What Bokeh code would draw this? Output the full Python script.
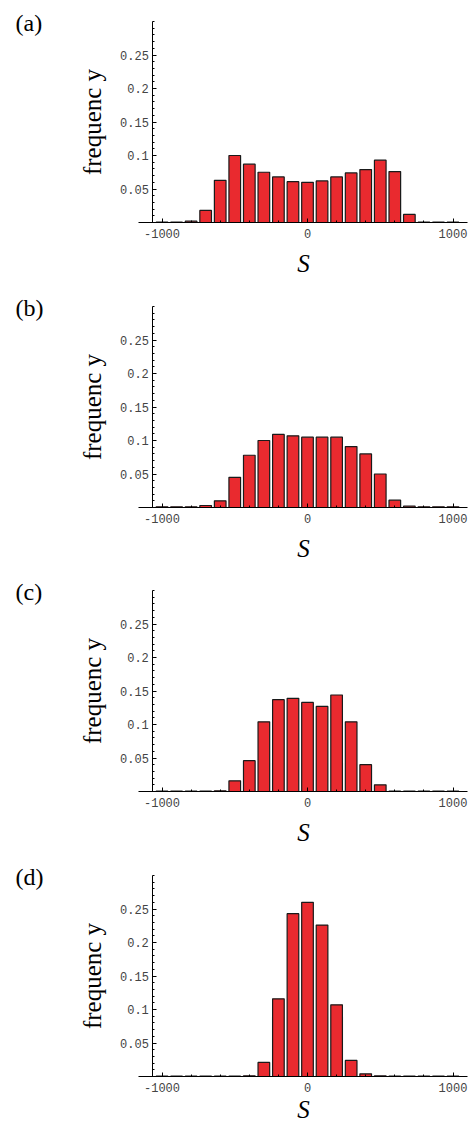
from bokeh.plotting import figure
from bokeh.layouts import column
from bokeh.models import FixedTicker, LinearAxis, Range1d, Label, ColumnDataSource
from bokeh.embed import file_html
from bokeh.resources import INLINE

# ---- data ----
S_centers = [-1000, -900, -800, -700, -600, -500, -400, -300, -200, -100, 0,
             100, 200, 300, 400, 500, 600, 700, 800, 900, 1000]

freq_a = [0.0005, 0.0005, 0.002, 0.018, 0.063, 0.100, 0.087, 0.075, 0.068, 0.061, 0.060,
          0.062, 0.068, 0.074, 0.079, 0.093, 0.076, 0.012, 0.0005, 0.0005, 0.0005]
freq_b = [0.001, 0.001, 0.001, 0.003, 0.010, 0.045, 0.078, 0.100, 0.109, 0.107, 0.105,
          0.105, 0.105, 0.091, 0.080, 0.050, 0.011, 0.002, 0.001, 0.001, 0.001]
freq_c = [0.0005, 0.0005, 0.0005, 0.0005, 0.001, 0.016, 0.046, 0.104, 0.137, 0.139, 0.133,
          0.127, 0.144, 0.104, 0.040, 0.010, 0.0005, 0.0005, 0.0005, 0.0005, 0.0005]
freq_d = [0.0005, 0.0005, 0.0005, 0.0005, 0.0005, 0.0005, 0.001, 0.021, 0.116, 0.243, 0.260,
          0.226, 0.107, 0.024, 0.004, 0.001, 0.0005, 0.0005, 0.0005, 0.0005, 0.0005]

panel_labels = ["(a)", "(b)", "(c)", "(d)"]
y_ticks = [0.0, 0.05, 0.1, 0.15, 0.2, 0.25]
y_tick_labels = ["", "0.05", "0.1", "0.15", "0.2", "0.25"]
x_ticks = [-1000, 0, 1000]
x_tick_labels = ["-1000", "0", "1000"]
y_axis_title = "frequenc y"
x_axis_title = "S"

BAR_COLOR = "#E92A2F"
MONO = "Liberation Mono"
SERIF = "Liberation Serif"

X_START, X_END = -2110, 1134        # frame spans the full width
X_AXIS_BOUNDS = (-1161.5, 1099.7)   # visible x-axis line
Y_AXIS_AT = -1063
Y_TOP = 0.30
PX_PER_UNIT = 670.0                 # vertical scale (pixels per frequency unit)
BASE_PX = 222                       # baseline distance from the figure top


def make_panel(freqs, label, height, s_gap):
    y_start = -(height - BASE_PX) / PX_PER_UNIT
    y_end = BASE_PX / PX_PER_UNIT
    p = figure(width=472, height=height, output_backend="svg", toolbar_location=None,
               x_range=Range1d(X_START, X_END), y_range=Range1d(y_start, y_end),
               min_border=0, x_axis_location=None, y_axis_location=None)
    p.outline_line_color = None
    p.grid.visible = False
    p.background_fill_color = "white"
    p.border_fill_color = "white"

    src = ColumnDataSource(dict(x=S_centers, top=freqs))
    p.vbar(x="x", top="top", bottom=0, width=80, source=src,
           fill_color=BAR_COLOR, line_color="#1a1a1a", line_width=1.2)

    # x axis fixed at frequency 0
    xa = LinearAxis(fixed_location=0, bounds=X_AXIS_BOUNDS,
                    ticker=FixedTicker(ticks=x_ticks,
                                       minor_ticks=list(range(-1000, 1001, 200))))
    xa.major_label_overrides = {t: s for t, s in zip(x_ticks, x_tick_labels)}
    xa.major_tick_in = 4
    xa.major_tick_out = 0
    xa.minor_tick_in = 2
    xa.minor_tick_out = 0
    xa.axis_line_color = "black"
    xa.axis_line_width = 1
    xa.major_label_text_font = MONO
    xa.major_label_text_font_size = "12px"
    xa.major_label_text_color = "#444444"
    xa.major_label_standoff = 6
    p.add_layout(xa, "below")

    # y axis fixed at the left end of the data
    ya = LinearAxis(fixed_location=Y_AXIS_AT, bounds=(0, Y_TOP),
                    ticker=FixedTicker(ticks=y_ticks,
                                       minor_ticks=[i / 100 for i in range(0, 31)]))
    ya.major_label_overrides = {t: s for t, s in zip(y_ticks, y_tick_labels)}
    ya.major_tick_in = 4
    ya.major_tick_out = 0
    ya.minor_tick_in = 2
    ya.minor_tick_out = 0
    ya.axis_line_color = "black"
    ya.major_label_text_font = MONO
    ya.major_label_text_font_size = "12px"
    ya.major_label_text_color = "#444444"
    ya.major_label_standoff = 4
    ya.axis_label = y_axis_title
    ya.axis_label_text_font = SERIF
    ya.axis_label_text_font_style = "normal"
    ya.axis_label_text_font_size = "25px"
    ya.axis_label_text_color = "black"
    ya.axis_label_standoff = 11
    p.add_layout(ya, "left")

    # x axis title "S"
    s_lab = Label(x=0, y=height - BASE_PX - s_gap, x_units="data", y_units="screen",
                  x_offset=-4, text=x_axis_title, text_font=SERIF,
                  text_font_style="italic", text_font_size="25px", text_color="black",
                  text_baseline="middle", text_align="center")
    p.add_layout(s_lab)

    # panel label
    lab = Label(x=15, y=height - 9, x_units="screen", y_units="screen", text=label,
                text_font=SERIF, text_font_size="24px", text_color="black",
                text_baseline="top", text_align="left")
    p.add_layout(lab)
    return p


p1 = make_panel(freq_a, panel_labels[0], 285, 41)
p2 = make_panel(freq_b, panel_labels[1], 284, 41)
p3 = make_panel(freq_c, panel_labels[2], 285, 41)
p4 = make_panel(freq_d, panel_labels[3], 272, 33)

layout = column(p1, p2, p3, p4, spacing=0)
open("out.html", "w").write(file_html(layout, INLINE))
